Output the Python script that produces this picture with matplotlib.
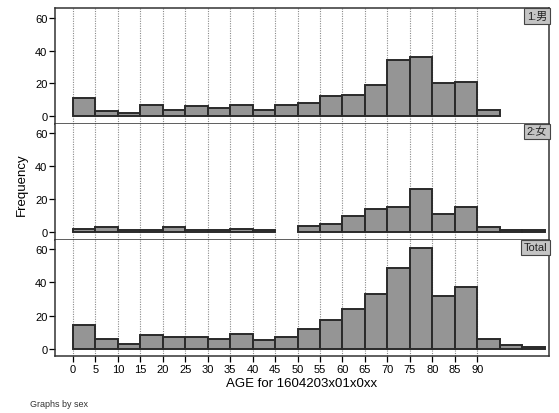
import matplotlib
matplotlib.use("Agg")
import matplotlib.pyplot as plt
import numpy as np

plt.rcParams['font.family'] = ['Liberation Sans', 'Noto Sans CJK JP', 'DejaVu Sans']

bin_starts = list(range(0, 105, 5))
male = [11, 3, 2, 7, 4, 6, 5, 7, 4, 7, 8, 12, 13, 19, 34, 36, 20, 21, 4, 0, 0]
female = [2, 3, 1, 1, 3, 1, 1, 2, 1, 0, 4, 5, 10, 14, 15, 26, 11, 15, 3, 1, 1]
total = [14, 6, 3, 8, 7, 7, 6, 9, 5, 7, 12, 17, 24, 33, 49, 61, 32, 37, 6, 2, 1]
panel_labels = ["1:男", "2:女", "Total"]
xticks = list(range(0, 95, 5))
yticks = [0, 20, 40, 60]

W, H = 559, 414
fig = plt.figure(figsize=(W / 100, H / 100), dpi=100)

panels = [(9, 124.5), (124.5, 240.5), (240.5, 357)]
left, right = 55, 549
series = [male, female, total]
axes = []
for i, ((top, bot), vals, lab) in enumerate(zip(panels, series, panel_labels)):
    ax = fig.add_axes([left / W, (H - bot) / H, (right - left) / W, (bot - top) / H])
    axes.append(ax)
    xs = [b for b, v in zip(bin_starts, vals) if v > 0]
    hs = [v for v in vals if v > 0]
    for x in xticks:
        ax.axvline(x, color='#8a8a8a', lw=0.8, ls=(0, (1, 1.2)), zorder=0)
    ax.bar(xs, hs, width=5, align='edge', facecolor='#959595',
           edgecolor='#2a2a2a', linewidth=1.4, zorder=2)
    ax.set_xlim(-4, 106)
    ax.set_ylim(-4.5, 66)
    ax.set_yticks(yticks)
    ax.tick_params(axis='y', direction='out', length=4, width=0.9, labelsize=8, pad=1.5)
    for s in ax.spines.values():
        s.set_linewidth(1.1)
        s.set_color('#333333')
    if i > 0:
        ax.spines['top'].set_visible(False)
    if i < 2:
        ax.set_xticks([])
    else:
        ax.set_xticks(xticks)
        ax.tick_params(axis='x', direction='out', length=4, width=0.9, labelsize=8, pad=2)
    ax.text(0.996, 0.975, lab, transform=ax.transAxes, ha='right', va='top',
            fontsize=8, color='#222222',
            bbox=dict(boxstyle='square,pad=0.25', facecolor='#c4c4c4',
                      edgecolor='#444444', linewidth=0.8), zorder=5)

axes[2].set_xlabel("AGE for 1604203x01x0xx", fontsize=9.5, labelpad=2)
fig.text(22 / W, (H - 185) / H, "Frequency", rotation=90, ha='center', va='center', fontsize=9.5)
fig.text(30 / W, (H - 405) / H, "Graphs by sex", ha='left', va='center', fontsize=6.5, color='#333333')

fig.savefig("out.png", dpi=100)
